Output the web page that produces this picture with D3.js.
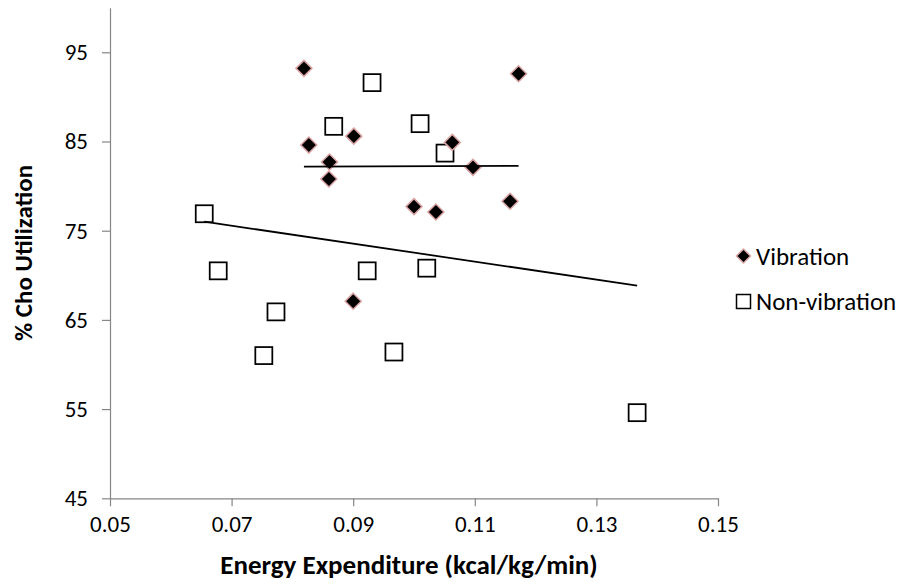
<!DOCTYPE html>
<html>
<head>
<meta charset="utf-8">
<script src="https://cdn.jsdelivr.net/npm/d3@7"></script>
<style>
  body { margin: 0; background: #fff; }
  svg text { font-family: Carlito, Calibri, Lato, "Open Sans", sans-serif; fill: #000; }
</style>
</head>
<body>
<svg id="chart" width="911" height="586"></svg>
<script>
// energy expenditure (kcal/kg/min) and % CHO utilization
var vibX = [0.0819, 0.1172, 0.0901, 0.0827, 0.1063, 0.0861, 0.0860, 0.1097, 0.1000, 0.1036, 0.1158, 0.0900];
var vibY = [93.2, 92.6, 85.6, 84.6, 84.9, 82.7, 80.8, 82.1, 77.7, 77.1, 78.3, 67.1];
var nonX = [0.0931, 0.0868, 0.1010, 0.1051, 0.0655, 0.0678, 0.0923, 0.1021, 0.0773, 0.0753, 0.0967, 0.1367];
var nonY = [91.6, 86.7, 87.0, 83.7, 76.9, 70.5, 70.5, 70.8, 65.9, 61.0, 61.4, 54.6];
var xTicks = [0.05, 0.07, 0.09, 0.11, 0.13, 0.15];
var yTicks = [45, 55, 65, 75, 85, 95];
var seriesNames = ["Vibration", "Non-vibration"];

var svg = d3.select("#chart");
var axisColor = "#868686";

var x = d3.scaleLinear().domain([0.05, 0.15]).range([110, 718]);
var y = d3.scaleLinear().domain([45, 100]).range([498.3, 7.7]);

function styleAxis(g) {
	g.select(".domain").attr("stroke", axisColor).attr("stroke-width", 1.2);
	g.selectAll(".tick line").attr("stroke", axisColor).attr("stroke-width", 1.2);
	g.selectAll(".tick text").style("font-size", "23px").attr("fill", "#000");
}

svg.append("g")
	.attr("transform", "translate(0,498.3)")
	.call(d3.axisBottom(x).tickValues(xTicks).tickFormat(d3.format(".2f")).tickSize(8).tickSizeOuter(0).tickPadding(9))
	.call(styleAxis);

svg.append("g")
	.attr("transform", "translate(110,0)")
	.call(d3.axisLeft(y).tickValues(yTicks).tickSize(8).tickSizeOuter(0).tickPadding(14))
	.call(styleAxis);

// axis titles
svg.append("text")
	.attr("x", 409).attr("y", 574)
	.attr("text-anchor", "middle")
	.style("font-size", "27px").style("font-weight", "bold")
	.text("Energy Expenditure (kcal/kg/min)");

svg.append("text")
	.attr("transform", "translate(23,253) rotate(-90)")
	.attr("text-anchor", "middle")
	.attr("dominant-baseline", "central")
	.style("font-size", "25px").style("font-weight", "bold")
	.text("% Cho Utilization");

// linear trend lines
function trend(xs, ys) {
	var mx = d3.mean(xs), my = d3.mean(ys);
	var sxy = d3.sum(xs, function(v, i) { return (v - mx) * (ys[i] - my); });
	var sxx = d3.sum(xs, function(v) { return (v - mx) * (v - mx); });
	var b = sxy / sxx, a = my - b * mx;
	var x0 = d3.min(xs), x1 = d3.max(xs);
	return [[x0, a + b * x0], [x1, a + b * x1]];
}

var line = d3.line().x(function(d) { return x(d[0]); }).y(function(d) { return y(d[1]); });

var diamond = function(s) { return "M0," + (-s) + "L" + s + ",0L0," + s + "L" + (-s) + ",0Z"; };

// non-vibration squares
svg.append("g").selectAll("rect")
	.data(d3.zip(nonX, nonY)).enter()
	.append("rect")
	.attr("x", function(d) { return x(d[0]) - 8.5; })
	.attr("y", function(d) { return y(d[1]) - 8.5; })
	.attr("width", 17).attr("height", 17)
	.attr("fill", "#fff").attr("stroke", "#000").attr("stroke-width", 1.75);

// vibration diamonds
svg.append("g").selectAll("path")
	.data(d3.zip(vibX, vibY)).enter()
	.append("path")
	.attr("transform", function(d) { return "translate(" + x(d[0]) + "," + y(d[1]) + ")"; })
	.attr("d", diamond(8))
	.attr("fill", "#000").attr("stroke", "#D9A3A3").attr("stroke-width", 1.5);

svg.append("path").datum(trend(vibX, vibY))
	.attr("d", line).attr("fill", "none").attr("stroke", "#000").attr("stroke-width", 1.75);
svg.append("path").datum(trend(nonX, nonY))
	.attr("d", line).attr("fill", "none").attr("stroke", "#000").attr("stroke-width", 1.75);

// legend
var legend = svg.append("g");
legend.append("path")
	.attr("transform", "translate(743.5,256)")
	.attr("d", diamond(7))
	.attr("fill", "#000").attr("stroke", "#D9A3A3").attr("stroke-width", 1.5);
legend.append("rect")
	.attr("x", 736.5).attr("y", 294.5).attr("width", 14).attr("height", 14)
	.attr("fill", "#fff").attr("stroke", "#000").attr("stroke-width", 1.5);
legend.selectAll("text")
	.data(seriesNames).enter()
	.append("text")
	.attr("x", 756)
	.attr("y", function(d, i) { return 256 + i * 45; })
	.attr("dominant-baseline", "central")
	.style("font-size", "25px")
	.text(function(d) { return d; });
</script>
</body>
</html>
